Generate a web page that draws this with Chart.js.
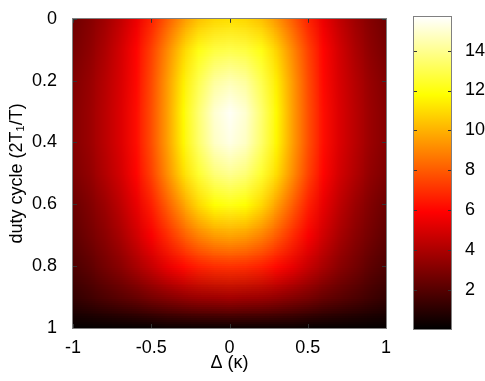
<!DOCTYPE html>
<html>
<head>
<meta charset="utf-8">
<script src="https://cdn.jsdelivr.net/npm/chart.js@4/dist/chart.umd.min.js"></script>
<style>
  html, body { margin: 0; padding: 0; background: #fff; }
  #wrap { position: relative; width: 485px; height: 381px; }
  #wrap canvas { position: absolute; left: 0; top: 0; }
</style>
</head>
<body>
<div id="wrap">
  <canvas id="main" width="485" height="381"></canvas>
  <canvas id="cbar" width="485" height="381"></canvas>
</div>
<script>
// grid: columns = detuning, rows = duty cycle
const deltaVals = [-1, -0.9, -0.8, -0.7, -0.6, -0.5, -0.4, -0.3, -0.2, -0.1, 0, 0.1, 0.2, 0.3, 0.4, 0.5, 0.6, 0.7, 0.8, 0.9, 1];
const dutyVals = [0, 0.1, 0.2, 0.3, 0.4, 0.5, 0.6, 0.7, 0.8, 0.9, 1];

const row00 = [2.6, 3.1, 3.7, 4.5, 5.5, 6.7, 8.1, 9.4, 10.4, 10.9, 11.1, 10.9, 10.4, 9.4, 8.1, 6.7, 5.5, 4.5, 3.7, 3.1, 2.6];
const row01 = [2.8, 3.3, 4.0, 4.9, 6.0, 7.4, 9.1, 10.8, 12.1, 12.8, 13.0, 12.8, 12.1, 10.8, 9.1, 7.4, 6.0, 4.9, 4.0, 3.3, 2.8];
const row02 = [3.0, 3.5, 4.2, 5.0, 6.1, 7.6, 9.5, 11.4, 13.0, 14.2, 14.6, 14.2, 13.0, 11.4, 9.5, 7.6, 6.1, 5.0, 4.2, 3.5, 3.0];
const row03 = [3.1, 3.6, 4.3, 5.1, 6.2, 7.7, 9.6, 11.7, 13.5, 15.0, 15.6, 15.0, 13.5, 11.7, 9.6, 7.7, 6.2, 5.1, 4.3, 3.6, 3.1];
const row04 = [3.1, 3.6, 4.3, 5.1, 6.2, 7.7, 9.6, 11.6, 13.4, 14.8, 15.3, 14.8, 13.4, 11.6, 9.6, 7.7, 6.2, 5.1, 4.3, 3.6, 3.1];
const row05 = [2.9, 3.4, 4.1, 4.9, 6.0, 7.4, 9.2, 11.0, 12.5, 13.6, 14.0, 13.6, 12.5, 11.0, 9.2, 7.4, 6.0, 4.9, 4.1, 3.4, 2.9];
const row06 = [2.5, 3.0, 3.6, 4.4, 5.4, 6.6, 8.1, 9.6, 10.9, 11.8, 12.1, 11.8, 10.9, 9.6, 8.1, 6.6, 5.4, 4.4, 3.6, 3.0, 2.5];
const row07 = [2.2, 2.7, 3.2, 3.9, 4.8, 5.8, 6.9, 8.0, 8.9, 9.5, 9.7, 9.5, 8.9, 8.0, 6.9, 5.8, 4.8, 3.9, 3.2, 2.7, 2.2];
const row08 = [1.8, 2.2, 2.7, 3.2, 3.9, 4.6, 5.4, 6.1, 6.6, 6.9, 7.0, 6.9, 6.6, 6.1, 5.4, 4.6, 3.9, 3.2, 2.7, 2.2, 1.8];
const row09 = [1.2, 1.5, 1.8, 2.1, 2.4, 2.8, 3.1, 3.4, 3.6, 3.7, 3.8, 3.7, 3.6, 3.4, 3.1, 2.8, 2.4, 2.1, 1.8, 1.5, 1.2];
const row10 = [0.1, 0.1, 0.1, 0.1, 0.1, 0.1, 0.2, 0.2, 0.2, 0.2, 0.2, 0.2, 0.2, 0.2, 0.2, 0.1, 0.1, 0.1, 0.1, 0.1, 0.1];
const zRows = [row00, row01, row02, row03, row04, row05, row06, row07, row08, row09, row10];

const xTicks = [-1, -0.5, 0, 0.5, 1];
const yTicks = [0, 0.2, 0.4, 0.6, 0.8, 1];
const cbTicks = [2, 4, 6, 8, 10, 12, 14];
const cbMin = 0.03, cbMax = 15.7;

const FONT = { family: "'Liberation Sans', Arial, sans-serif", size: 18 };

// matlab style "hot" colour map
function hot(v) {
  let f = (v - cbMin) / (cbMax - cbMin);
  f = Math.max(0, Math.min(1, f));
  const c = t => Math.round(255 * Math.max(0, Math.min(1, t)));
  return [c(f / 0.375), c((f - 0.375) / 0.375), c((f - 0.75) / 0.25)];
}

function inwardTicks(ctx, a, xs, ys, xScale, yScale, len) {
  ctx.save();
  ctx.strokeStyle = '#333';
  ctx.lineWidth = 1;
  ctx.beginPath();
  if (xScale) xs.forEach(v => {
    const px = Math.round(xScale.getPixelForValue(v)) + 0.5;
    ctx.moveTo(px, a.top); ctx.lineTo(px, a.top + len);
    ctx.moveTo(px, a.bottom); ctx.lineTo(px, a.bottom - len);
  });
  ys.forEach(v => {
    const py = Math.round(yScale.getPixelForValue(v)) + 0.5;
    ctx.moveTo(a.left, py); ctx.lineTo(a.left + len, py);
    ctx.moveTo(a.right, py); ctx.lineTo(a.right - len, py);
  });
  ctx.stroke();
  ctx.strokeStyle = '#808080';
  ctx.strokeRect(Math.round(a.left) - 0.5, Math.round(a.top) - 0.5, Math.round(a.width) + 1, Math.round(a.height) + 1);
  ctx.restore();
}

const heatmap = {
  id: 'heatmap',
  beforeDatasetsDraw(chart) {
    const { ctx, chartArea: a, scales: { x, y } } = chart;
    const off = document.createElement('canvas');
    off.width = deltaVals.length;
    off.height = dutyVals.length;
    const octx = off.getContext('2d');
    const img = octx.createImageData(off.width, off.height);
    zRows.forEach((row, j) => row.forEach((v, i) => {
      const [r, g, b] = hot(v);
      const k = (j * off.width + i) * 4;
      img.data[k] = r; img.data[k + 1] = g; img.data[k + 2] = b; img.data[k + 3] = 255;
    }));
    octx.putImageData(img, 0, 0);
    const hx = (deltaVals[1] - deltaVals[0]) / 2;
    const hy = (dutyVals[1] - dutyVals[0]) / 2;
    const x0 = x.getPixelForValue(deltaVals[0] - hx);
    const x1 = x.getPixelForValue(deltaVals[deltaVals.length - 1] + hx);
    const y0 = y.getPixelForValue(dutyVals[0] - hy);
    const y1 = y.getPixelForValue(dutyVals[dutyVals.length - 1] + hy);
    ctx.save();
    ctx.beginPath();
    ctx.rect(a.left, a.top, a.width, a.height);
    ctx.clip();
    ctx.imageSmoothingEnabled = true;
    ctx.drawImage(off, x0, y0, x1 - x0, y1 - y0);
    ctx.restore();
  },
  afterDraw(chart) {
    inwardTicks(chart.ctx, chart.chartArea, xTicks, yTicks, chart.scales.x, chart.scales.y, 4);
  }
};

const colorbar = {
  id: 'colorbar',
  beforeDatasetsDraw(chart) {
    const { ctx, chartArea: a, scales: { y } } = chart;
    const g = ctx.createLinearGradient(0, y.getPixelForValue(cbMin), 0, y.getPixelForValue(cbMax));
    g.addColorStop(0, '#000000');
    g.addColorStop(0.375, '#ff0000');
    g.addColorStop(0.75, '#ffff00');
    g.addColorStop(1, '#ffffff');
    ctx.save();
    ctx.fillStyle = g;
    ctx.fillRect(a.left, a.top, a.width, a.height);
    ctx.restore();
  },
  afterDraw(chart) {
    inwardTicks(chart.ctx, chart.chartArea, [], cbTicks, null, chart.scales.y, 3);
  }
};

const plain = v => String(v);

new Chart(document.getElementById('main'), {
  type: 'scatter',
  data: { datasets: [] },
  options: {
    responsive: false,
    animation: false,
    events: [],
    layout: { padding: { left: 0, top: 13, right: 99, bottom: 0 } },
    plugins: { legend: { display: false }, tooltip: { enabled: false } },
    scales: {
      x: {
        type: 'linear', min: -1, max: 1,
        afterBuildTicks: s => { s.ticks = xTicks.map(v => ({ value: v })); },
        afterFit: s => { s.height = 53; },
        grid: { display: false }, border: { display: false },
        ticks: { color: '#000', font: FONT, padding: 1, maxRotation: 0, callback: plain },
        title: { display: true, text: 'Δ (κ)', color: '#000', font: FONT, padding: { top: 0, bottom: 7 } }
      },
      y: {
        type: 'linear', reverse: true, min: 0, max: 1,
        afterBuildTicks: s => { s.ticks = yTicks.map(v => ({ value: v })); },
        afterFit: s => { s.width = 73; },
        grid: { display: false }, border: { display: false },
        ticks: { color: '#000', font: FONT, padding: 8, callback: plain },
        title: { display: true, text: 'duty cycle (2T₁/T)', color: '#000', font: FONT, padding: { top: 6, bottom: 0 } }
      }
    }
  },
  plugins: [heatmap]
});

new Chart(document.getElementById('cbar'), {
  type: 'scatter',
  data: { datasets: [] },
  options: {
    responsive: false,
    animation: false,
    events: [],
    layout: { padding: { left: 414, top: 13, right: 0, bottom: 52 } },
    plugins: { legend: { display: false }, tooltip: { enabled: false } },
    scales: {
      x: { type: 'linear', display: false, min: 0, max: 1 },
      y: {
        type: 'linear', position: 'right', min: cbMin, max: cbMax,
        afterBuildTicks: s => { s.ticks = cbTicks.map(v => ({ value: v })); },
        afterFit: s => { s.width = 34; },
        grid: { display: false }, border: { display: false },
        ticks: { color: '#000', font: FONT, padding: 6, callback: plain }
      }
    }
  },
  plugins: [colorbar]
});
</script>
</body>
</html>
